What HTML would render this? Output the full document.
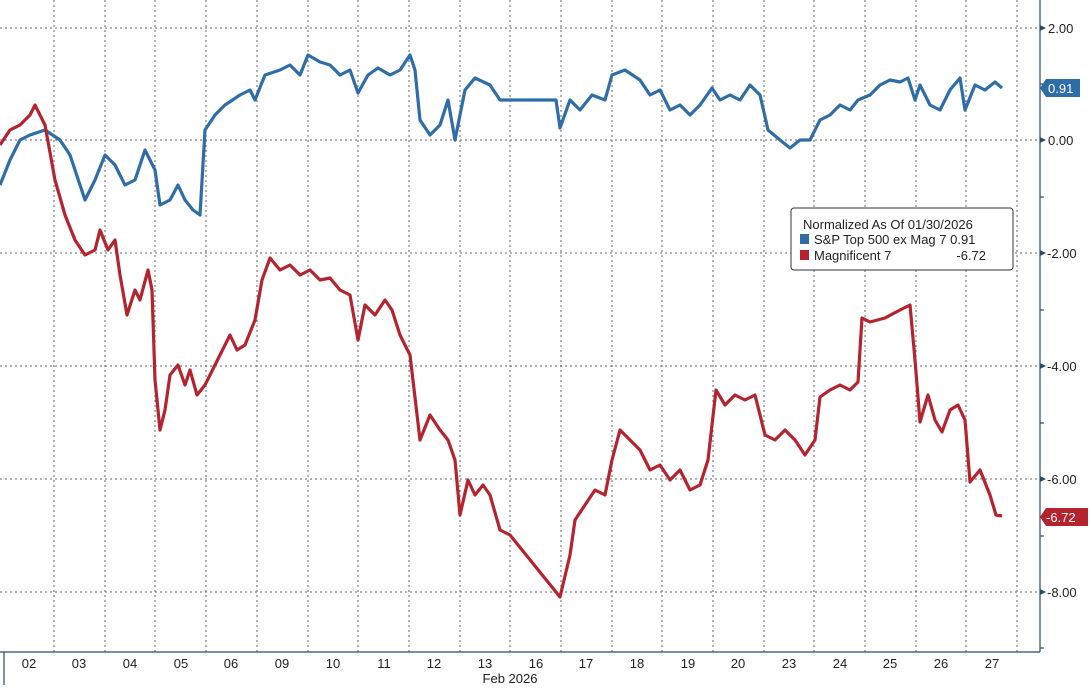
<!DOCTYPE html>
<html><head><style>
body{margin:0;background:#fff;font-family:"Liberation Sans",sans-serif;}
svg text{font-family:"Liberation Sans",sans-serif;}
</style></head><body>
<svg width="1090" height="685" viewBox="0 0 1090 685" xmlns="http://www.w3.org/2000/svg">
<g stroke="#666" stroke-width="1" stroke-dasharray="2,3">
<line x1="0" y1="28" x2="1040" y2="28"/><line x1="0" y1="140" x2="1040" y2="140"/>
<line x1="0" y1="253" x2="1040" y2="253"/><line x1="0" y1="366" x2="1040" y2="366"/>
<line x1="0" y1="479" x2="1040" y2="479"/><line x1="0" y1="592" x2="1040" y2="592"/>
<line x1="54" y1="0" x2="54" y2="652"/><line x1="105" y1="0" x2="105" y2="652"/><line x1="155" y1="0" x2="155" y2="652"/><line x1="206" y1="0" x2="206" y2="652"/><line x1="257" y1="0" x2="257" y2="652"/><line x1="308" y1="0" x2="308" y2="652"/><line x1="358" y1="0" x2="358" y2="652"/><line x1="409" y1="0" x2="409" y2="652"/><line x1="460" y1="0" x2="460" y2="652"/><line x1="510" y1="0" x2="510" y2="652"/><line x1="561" y1="0" x2="561" y2="652"/><line x1="612" y1="0" x2="612" y2="652"/><line x1="662" y1="0" x2="662" y2="652"/><line x1="713" y1="0" x2="713" y2="652"/><line x1="764" y1="0" x2="764" y2="652"/><line x1="814" y1="0" x2="814" y2="652"/><line x1="865" y1="0" x2="865" y2="652"/><line x1="916" y1="0" x2="916" y2="652"/><line x1="966" y1="0" x2="966" y2="652"/><line x1="1017" y1="0" x2="1017" y2="652"/>
</g>
<g stroke="#2b4a63" stroke-width="1.2">
<line x1="1040" y1="0" x2="1040" y2="652"/><line x1="0" y1="652" x2="1040" y2="652"/><line x1="4" y1="652" x2="4" y2="685"/>
<line x1="1040" y1="84" x2="1044" y2="84"/><line x1="1040" y1="197" x2="1044" y2="197"/><line x1="1040" y1="310" x2="1044" y2="310"/><line x1="1040" y1="423" x2="1044" y2="423"/><line x1="1040" y1="536" x2="1044" y2="536"/><line x1="1040" y1="648" x2="1044" y2="648"/>
</g>
<g fill="#2b4a63">
<path d="M1040,25 L1046,28 L1040,31Z"/><path d="M1040,137 L1046,140 L1040,143Z"/><path d="M1040,250 L1046,253 L1040,256Z"/><path d="M1040,363 L1046,366 L1040,369Z"/><path d="M1040,476 L1046,479 L1040,482Z"/><path d="M1040,589 L1046,592 L1040,595Z"/>
</g>
<g font-size="13" fill="#222">
<text x="1048" y="33">2.00</text><text x="1048" y="145">0.00</text><text x="1047" y="258">-2.00</text><text x="1047" y="371">-4.00</text><text x="1047" y="484">-6.00</text><text x="1047" y="597">-8.00</text>
</g>
<g font-size="13" fill="#222" text-anchor="middle">
<text x="29" y="668">02</text><text x="79" y="668">03</text><text x="130" y="668">04</text><text x="181" y="668">05</text><text x="231" y="668">06</text><text x="282" y="668">09</text><text x="333" y="668">10</text><text x="384" y="668">11</text><text x="434" y="668">12</text><text x="485" y="668">13</text><text x="536" y="668">16</text><text x="586" y="668">17</text><text x="637" y="668">18</text><text x="688" y="668">19</text><text x="738" y="668">20</text><text x="789" y="668">23</text><text x="840" y="668">24</text><text x="890" y="668">25</text><text x="941" y="668">26</text><text x="992" y="668">27</text>
<text x="510" y="683">Feb 2026</text>
</g>
<polyline fill="none" stroke="#2e6da8" stroke-width="3.2" stroke-linejoin="round" points="0,185 10,160 20,140 30,135 45,130 60,140 70,155 85,200 95,180 105,155 115,165 125,185 135,180 145,150 155,170 160,205 170,200 178,185 185,200 193,210 200,215 205,130 215,115 225,105 240,95 250,90 255,100 265,75 280,70 290,65 300,75 308,55 320,62 330,65 340,75 350,70 358,93 368,75 378,68 390,75 400,70 410,55 415,70 420,120 430,135 440,125 448,100 455,140 465,90 475,78 490,85 500,100 556,100 560,128 570,100 580,110 592,95 605,100 612,75 625,70 640,80 650,95 660,90 670,110 680,105 690,115 700,105 712,88 720,100 730,95 740,100 750,85 760,95 768,130 780,140 790,148 800,140 810,140 820,120 830,115 840,105 850,110 858,100 870,95 880,85 890,80 900,82 908,78 915,100 920,85 930,105 940,110 950,90 960,78 965,110 975,85 985,90 995,82 1002,88"/>
<polyline fill="none" stroke="#b5232f" stroke-width="3.2" stroke-linejoin="round" points="0,145 10,130 20,125 30,115 35,105 45,125 55,180 65,215 75,240 85,255 95,250 100,230 108,250 115,240 120,275 127,315 135,290 140,300 148,270 152,290 155,380 160,430 165,410 170,375 178,365 185,385 190,370 197,395 205,385 210,375 220,355 230,335 237,350 245,345 255,320 262,280 270,258 280,270 290,265 300,275 310,270 320,280 330,278 340,290 350,295 358,340 365,305 375,315 385,300 392,310 400,335 410,355 420,440 430,415 440,430 448,440 455,460 460,515 468,480 475,495 483,485 490,495 500,530 510,535 560,597 570,555 575,520 585,505 595,490 605,495 612,460 620,430 630,440 640,450 650,470 660,465 670,480 680,470 690,490 700,485 708,460 716,390 725,405 735,395 745,400 755,395 765,435 775,440 785,430 795,440 805,455 815,440 820,397 830,390 840,385 850,390 858,382 862,318 870,322 885,318 900,310 910,305 915,360 920,422 928,395 935,420 942,432 950,410 958,405 965,420 970,482 980,470 990,495 996,515 1002,516"/>
<path d="M1040,88 L1046,79 L1080,79 L1080,97 L1046,97 Z" fill="#2e6da8"/>
<text x="1048" y="93" font-size="13" fill="#fff">0.91</text>
<path d="M1040,517 L1046,508 L1088,508 L1088,526 L1046,526 Z" fill="#b5232f"/>
<text x="1046" y="522" font-size="13" fill="#fff">-6.72</text>
<rect x="791" y="208" width="222" height="62" rx="3" fill="#fff" stroke="#333" stroke-width="1"/>
<text x="803" y="229" font-size="13" fill="#222">Normalized As Of 01/30/2026</text>
<rect x="800" y="234" width="9" height="10" fill="#2e6da8"/>
<text x="814" y="244" font-size="13" fill="#222">S&amp;P Top 500 ex Mag 7 0.91</text>
<rect x="800" y="250" width="9" height="10" fill="#b5232f"/>
<text x="814" y="260" font-size="13" fill="#222">Magnificent 7</text>
<text x="986" y="260" font-size="13" fill="#222" text-anchor="end">-6.72</text>
</svg>
</body></html>
